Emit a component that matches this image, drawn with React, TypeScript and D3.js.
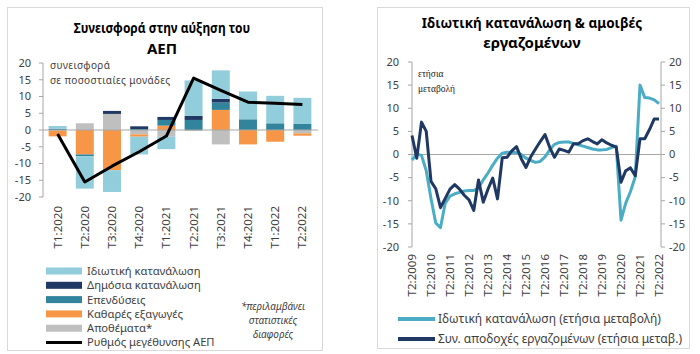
import React from "react";
import * as d3 from "d3";

// ---- left panel: contributions to GDP growth (percentage points) ----
const quarters = ["T1:2020", "T2:2020", "T3:2020", "T4:2020", "T1:2021", "T2:2021", "T3:2021", "T4:2021", "T1:2022", "T2:2022"];
const privateCons = [0.8, -9.7, -6.5, -5.3, -3.7, 10.6, 8.5, 8.3, 8.2, 7.8];
const publicCons = [0, 0, 0.9, 0.8, 0.9, 1.2, 1.1, 0, 0, 0];
const investment = [0.4, -0.5, 0, 0.3, 1.7, 3.0, 2.2, 3.2, 2.0, 1.8];
const netExports = [-1.7, -7.3, -12.0, -0.7, 1.3, 0, 6.0, -4.3, -3.5, -0.7];
const inventories = [-0.2, 2.0, 4.8, -1.3, -2.0, -0.3, -4.3, 0, 0, -1.0];
const gdpGrowth = [-1.2, -15.5, -10.8, -6.5, -1.8, 15.5, 11.8, 8.3, 8.0, 7.6];

// ---- right panel: quarterly y/y changes, T2:2009 .. T2:2022 ----
const yearLabels = ["T2:2009", "T2:2010", "T2:2011", "T2:2012", "T2:2013", "T2:2014", "T2:2015", "T2:2016", "T2:2017", "T2:2018", "T2:2019", "T2:2020", "T2:2021", "T2:2022"];
const privateConsYoY = [
  -1.2, 0.1, -0.2, -3.5, -9.5, -14.8, -15.8, -10.5, -9.0, -8.5,
  -8.2, -7.9, -7.8, -7.8, -7.2, -5.5, -4.0, -2.3, -0.8, 0.3,
  0.5, 0.5, 0.4, 0.0, -0.8, -1.3, -1.7, -1.5, -0.5, 1.0,
  2.2, 2.6, 2.7, 2.7, 2.4, 2.1, 1.8, 1.5, 1.2, 1.0,
  1.0, 1.1, 1.5, 1.8, -14.2, -10.5, -8.0, -4.8, 15.0, 12.3,
  12.2, 11.8, 11.0,
];
const compensationYoY = [
  4.1, -0.8, 7.0, 5.0, -5.8, -7.4, -11.5, -9.5, -7.5, -6.5,
  -7.5, -8.8, -9.8, -12.1, -5.5, -10.3, -7.5, -5.1, -9.6, -0.7,
  -0.6, 0.8, 1.7, -0.9, -2.8, -0.5, 1.2, 2.8, 4.3, 1.5,
  -0.6, 1.2, 0.9, 0.5, 2.3, 2.3, 3.0, 3.4, 2.8, 2.3,
  3.2, 2.5, 2.0, 1.6, -6.0, -3.5, -2.9, -4.6, 3.4, 3.4,
  5.4, 7.7, 7.7,
];

const FONT = "'Noto Sans', sans-serif";
const AXIS = "#a6a6a6";
const TXT = "#404040";

const colors: Record<string, string> = {
  privateCons: "#92cddc",
  publicCons: "#1f3864",
  investment: "#31849b",
  netExports: "#f79646",
  inventories: "#bfbfbf",
};

function LeftPanel() {
  const x = d3.scaleBand<string>().domain(quarters).range([44, 316]).paddingInner(0.34).paddingOuter(0.17);
  const y = d3.scaleLinear().domain([-20, 20]).range([197, 63]);

  const rows = quarters.map((q, i) => ({
    q,
    inventories: inventories[i],
    netExports: netExports[i],
    investment: investment[i],
    publicCons: publicCons[i],
    privateCons: privateCons[i],
  }));
  // stacked outward from zero in this order
  const keys = ["inventories", "netExports", "investment", "publicCons", "privateCons"];
  const series = d3.stack<any>().keys(keys).offset(d3.stackOffsetDiverging)(rows);

  const gdpLine = d3
    .line<number>()
    .x((d, i) => (x(quarters[i]) as number) + x.bandwidth() / 2)
    .y((d) => y(d));

  const legend = [
    { label: "Ιδιωτική κατανάλωση", key: "privateCons" },
    { label: "Δημόσια κατανάλωση", key: "publicCons" },
    { label: "Επενδύσεις", key: "investment" },
    { label: "Καθαρές εξαγωγές", key: "netExports" },
    { label: "Αποθέματα*", key: "inventories" },
  ];

  return (
    <g fontFamily={FONT}>
      <rect x={7.5} y={7.5} width={315} height={343} fill="none" stroke="#d9d9d9" />
      <text transform="translate(162,33) scale(0.8,1)" textAnchor="middle" fontSize={15} fontWeight="bold" fill="#000">
        Συνεισφορά στην αύξηση του
      </text>
      <text x={162} y={54} textAnchor="middle" fontSize={15} fontWeight="bold" fill="#000">
        ΑΕΠ
      </text>

      {series.map((s) =>
        s.map((d, i) => (
          <rect
            key={s.key + i}
            x={x(quarters[i])}
            width={x.bandwidth()}
            y={y(Math.max(d[0], d[1]))}
            height={Math.abs(y(d[0]) - y(d[1]))}
            fill={colors[s.key]}
          />
        ))
      )}

      <line x1={43} x2={318} y1={y(0)} y2={y(0)} stroke={AXIS} />
      <line x1={43} x2={43} y1={y(-20)} y2={y(20)} stroke={AXIS} />
      {y.ticks(8).map((t) => (
        <g key={t}>
          <line x1={39} x2={43} y1={y(t)} y2={y(t)} stroke={AXIS} />
          <text x={31} y={y(t)} dy="0.35em" textAnchor="end" fontSize={11} fill={TXT}>
            {t}
          </text>
        </g>
      ))}

      <path d={gdpLine(gdpGrowth) || ""} fill="none" stroke="#000" strokeWidth={3} strokeLinejoin="round" />

      {quarters.map((q) => (
        <text
          key={q}
          transform={`translate(${(x(q) as number) + x.bandwidth() / 2},206) rotate(-90)`}
          dy="0.35em"
          textAnchor="end"
          fontSize={11.5}
          fill={TXT}
        >
          {q}
        </text>
      ))}

      <text x={50} y={69} fontSize={10} letterSpacing={0.4} fill={TXT}>συνεισφορά</text>
      <text x={50} y={84} fontSize={10} letterSpacing={0.4} fill={TXT}>σε ποσοστιαίες μονάδες</text>

      {legend.map((l, i) => (
        <g key={l.key} transform={`translate(0,${271 + i * 14.3})`}>
          <rect x={46} y={-3.5} width={36} height={7} fill={colors[l.key]} />
          <text x={87} dy="0.35em" fontSize={11.2} fill={TXT}>
            {l.label}
          </text>
        </g>
      ))}
      <g transform={`translate(0,${271 + 5 * 14.3})`}>
        <line x1={46} x2={82} stroke="#000" strokeWidth={3} />
        <text x={87} dy="0.35em" fontSize={11.2} fill={TXT}>
          Ρυθμός μεγέθυνσης ΑΕΠ
        </text>
      </g>

      <g fontStyle="italic" fontSize={10} fill={TXT} textAnchor="middle">
        <text x={273} y={310}>*περιλαμβάνει</text>
        <text x={273} y={324}>στατιστικές</text>
        <text x={273} y={338}>διαφορές</text>
      </g>
    </g>
  );
}

function RightPanel() {
  const idx = d3.range(privateConsYoY.length);
  const x = d3.scalePoint<number>().domain(idx).range([412, 659]);
  const y = d3.scaleLinear().domain([-20, 20]).range([247, 62]);
  const line = d3
    .line<number>()
    .x((d, i) => x(i) as number)
    .y((d) => y(d));

  const xLeft = 412;
  const xRight = 661;

  return (
    <g fontFamily={FONT}>
      <rect x={377.5} y={7.5} width={312} height={341} fill="none" stroke="#d9d9d9" />
      <text transform="translate(532,28) scale(0.9,1)" textAnchor="middle" fontSize={15} fontWeight="bold" fill="#000">
        Ιδιωτική κατανάλωση &amp; αμοιβές
      </text>
      <text x={532} y={48} textAnchor="middle" fontSize={15} fontWeight="bold" fill="#000">
        εργαζομένων
      </text>

      <line x1={xLeft} x2={xRight} y1={y(0)} y2={y(0)} stroke={AXIS} />
      <line x1={xLeft} x2={xLeft} y1={y(-20)} y2={y(20)} stroke={AXIS} />
      <line x1={xRight} x2={xRight} y1={y(-20)} y2={y(20)} stroke={AXIS} />
      {y.ticks(8).map((t) => (
        <g key={t}>
          <line x1={xLeft - 4} x2={xLeft} y1={y(t)} y2={y(t)} stroke={AXIS} />
          <line x1={xRight} x2={xRight + 4} y1={y(t)} y2={y(t)} stroke={AXIS} />
          <text x={399} y={y(t)} dy="0.35em" textAnchor="end" fontSize={11} fill={TXT}>
            {t}
          </text>
          <text x={669} y={y(t)} dy="0.35em" textAnchor="start" fontSize={11} fill={TXT}>
            {t}
          </text>
        </g>
      ))}

      <text x={418} y={77} fontSize={9.5} fontFamily="'Liberation Serif', serif" fill="#222">ετήσια</text>
      <text x={418} y={92} fontSize={9.5} fontFamily="'Liberation Serif', serif" fill="#222">μεταβολή</text>

      <path d={line(privateConsYoY) || ""} fill="none" stroke="#4bacc6" strokeWidth={3} strokeLinejoin="round" />
      <path d={line(compensationYoY) || ""} fill="none" stroke="#1f3864" strokeWidth={3} strokeLinejoin="round" />

      {yearLabels.map((l, k) => (
        <text
          key={l}
          transform={`translate(${x(k * 4)},254) rotate(-90)`}
          dy="0.35em"
          textAnchor="end"
          fontSize={11.5}
          fill={TXT}
        >
          {l}
        </text>
      ))}

      <line x1={398} x2={435} y1={319} y2={319} stroke="#4bacc6" strokeWidth={4} />
      <text x={438} y={319} dy="0.35em" fontSize={12} fill={TXT}>
        Ιδωτική κατανάλωση (ετήσια μεταβολή)
      </text>
      <line x1={398} x2={435} y1={339} y2={339} stroke="#1f3864" strokeWidth={4} />
      <text x={438} y={339} dy="0.35em" fontSize={12} fill={TXT}>
        Συν. αποδοχές εργαζομένων (ετήσια μεταβ.)
      </text>
    </g>
  );
}

export default function App() {
  return (
    <svg
      width={700}
      height={354}
      style={{ position: "absolute", left: 0, top: 0, background: "#fff" }}
    >
      <LeftPanel />
      <RightPanel />
    </svg>
  );
}
